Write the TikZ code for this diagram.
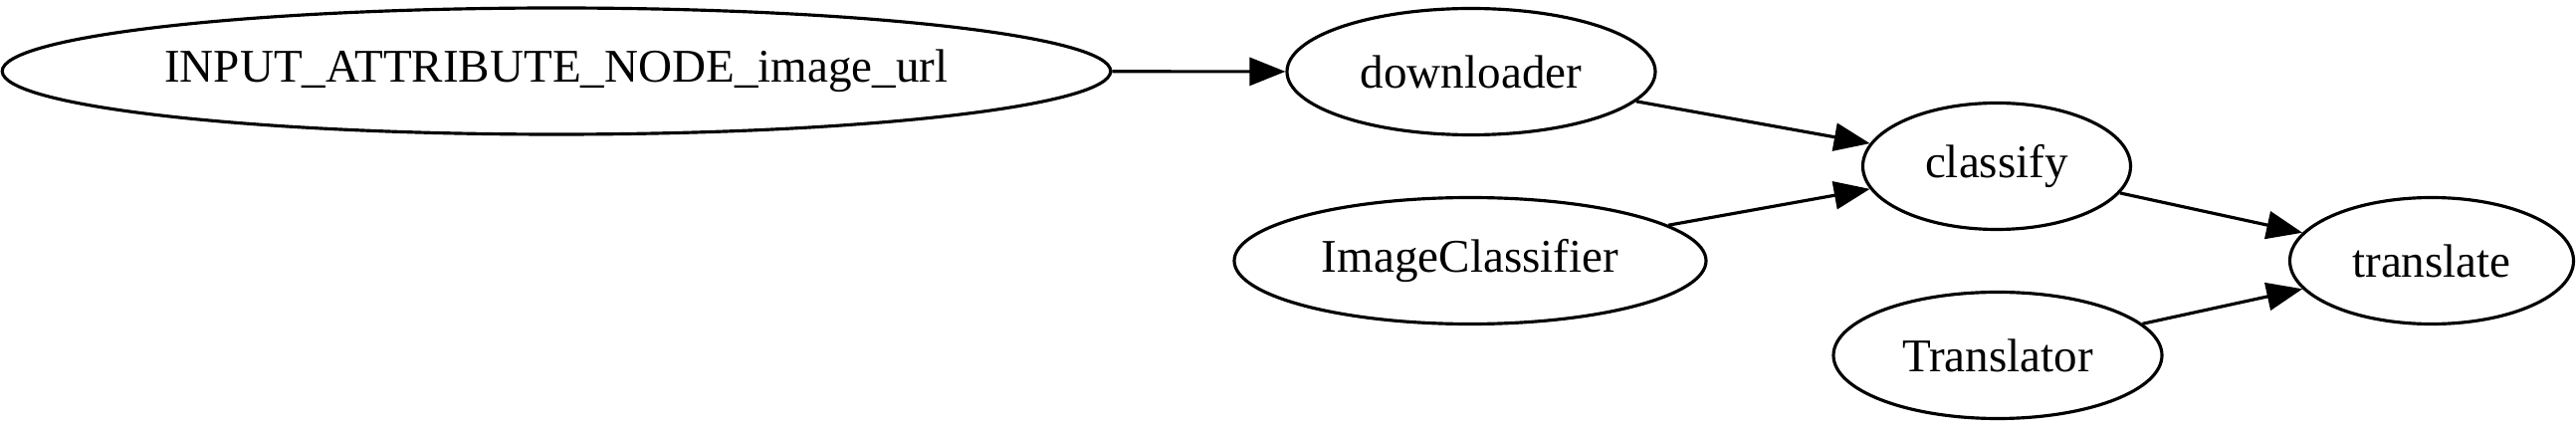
\documentclass[tikz,border=0pt]{standalone}
\usepackage{fontspec}
\setmainfont{Liberation Serif}
\usetikzlibrary{shapes.geometric,arrows.meta}

\tikzset{
  task/.style={draw, ellipse, line width=0.9pt, inner sep=0pt, minimum height=1.27cm,
    font=\fontsize{13.4}{16}\selectfont},
  flow/.style={-{Triangle[length=0.36cm,width=0.28cm]}, line width=0.9pt}
}

\begin{document}
\begin{tikzpicture}
\useasboundingbox (0,0) rectangle (25.88,4.30);

\node[task, minimum width=11.10cm] (input) at (5.59,3.585) {INPUT\_ATTRIBUTE\_NODE\_image\_url};
\node[task, minimum width=3.70cm] (downloader) at (14.78,3.58) {downloader};
\node[task, minimum width=2.69cm] (classify) at (20.06,2.63) {classify};
\node[task, minimum width=4.74cm] (imgcls) at (14.77,1.68) {ImageClassifier};
\node[task, minimum width=2.85cm] (translate) at (24.43,1.68) {translate};
\node[task, minimum width=3.30cm] (translator) at (20.07,0.73) {Translator};

\draw[flow] (input) -- (downloader);
\draw[flow] (downloader) -- (classify);
\draw[flow] (imgcls) -- (classify);
\draw[flow] (classify) -- (translate);
\draw[flow] (translator) -- (translate);
\end{tikzpicture}
\end{document}
